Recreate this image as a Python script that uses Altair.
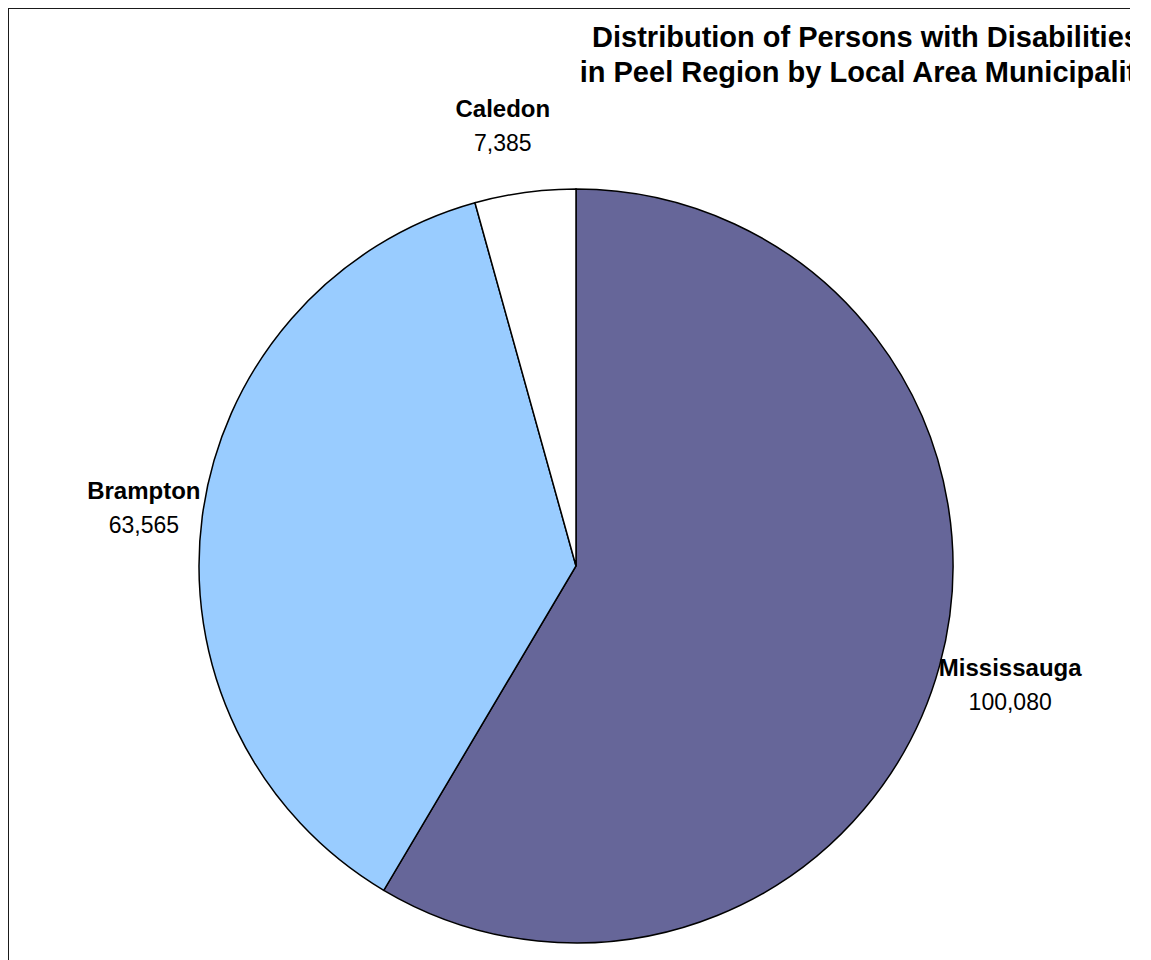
import altair as alt
import pandas as pd

# Data
areas = ["Mississauga", "Brampton", "Caledon"]
persons = [100080, 63565, 7385]
value_labels = ["100,080", "63,565", "7,385"]
slice_colors = ["#666699", "#99CCFF", "#FFFFFF"]
title_lines = ["Distribution of Persons with Disabilities",
               "in Peel Region by Local Area Municipality"]

df = pd.DataFrame({
    "area": areas,
    "persons": persons,
    "label": value_labels,
    "idx": list(range(len(areas))),
})
tdf = pd.DataFrame({"line": title_lines, "row": list(range(len(title_lines)))})

W, H = 1122, 952
CX, CY = 568, 558
R = 377
LR = 445
FONT = "Liberation Sans"
LABEL_DX = {"Mississauga": 5, "Brampton": 9, "Caledon": -13}

color = alt.Color("area:N", scale=alt.Scale(domain=areas, range=slice_colors), legend=None)
theta = alt.Theta("persons:Q", stack=True)
order = alt.Order("idx:Q")

pie = alt.Chart(df).mark_arc(radius=R, stroke="#000000", strokeWidth=1.5).encode(
    theta=theta, color=color, order=order,
    x=alt.value(CX), y=alt.value(CY),
)

stacked = alt.Chart(df).transform_stack(
    stack="persons", groupby=[], as_=["t0", "t1"], sort=[alt.SortField("idx", order="ascending")]
).transform_calculate(
    mid="(datum.t0 + datum.t1) / 2"
)

def labels_for(area, dx):
    b = stacked.transform_filter(alt.datum.area == area)
    th = alt.Theta("mid:Q", scale=alt.Scale(domain=[0, sum(persons)], range=[0, 6.283185307179586]))
    name = b.mark_text(font=FONT, fontSize=24, fontWeight="bold", color="#000000",
                       align="center", baseline="alphabetic", dy=-8, dx=dx).encode(
        theta=th, text="area:N",
        radius=alt.value(LR), x=alt.value(CX), y=alt.value(CY),
    )
    val = b.mark_text(font=FONT, fontSize=23, color="#000000",
                      align="center", baseline="alphabetic", dy=26, dx=dx).encode(
        theta=th, text="label:N",
        radius=alt.value(LR), x=alt.value(CX), y=alt.value(CY),
    )
    return [name, val]

lbl = []
for a in areas:
    lbl += labels_for(a, LABEL_DX[a])

title = alt.Chart(tdf).mark_text(font=FONT, fontSize=29, fontWeight="bold", color="#000000",
                                 align="center", baseline="alphabetic", clip=True).encode(
    text="line:N",
    x=alt.value(858),
    y=alt.Y("row:Q", scale=alt.Scale(domain=[0, 1], range=[39, 74]), axis=None),
)

frame_left = alt.Chart(tdf).mark_rule(color="#1a1a1a", strokeWidth=2).encode(
    x=alt.value(0), y=alt.value(0), y2=alt.value(H))
frame_top = alt.Chart(tdf).mark_rule(color="#1a1a1a", strokeWidth=2).encode(
    x=alt.value(0), x2=alt.value(W), y=alt.value(0))

chart = alt.layer(pie, *lbl, title, frame_left, frame_top).properties(
    width=W, height=H, padding=0, autosize=alt.AutoSizeParams(type="none"),
    background="#FFFFFF",
).configure_view(stroke="transparent", strokeWidth=0)

chart.save("out.html", embed_options={"renderer": "svg", "actions": False})
